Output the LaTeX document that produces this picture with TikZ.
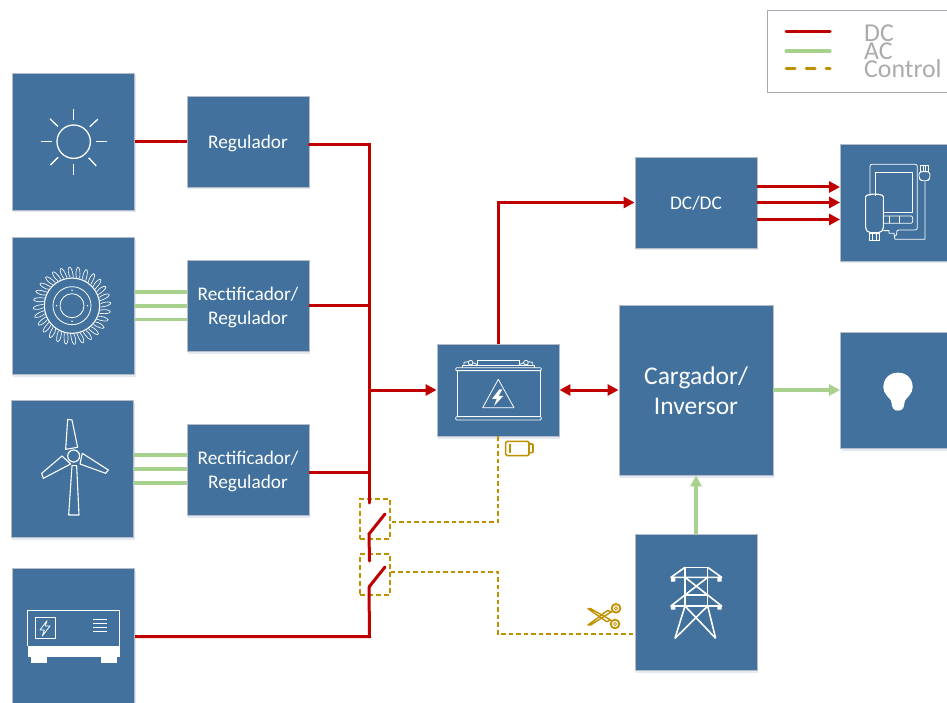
\documentclass[tikz,border=0pt]{standalone}
\usepackage{fontspec}
\setmainfont{Carlito}
\usetikzlibrary{arrows.meta,shadows}
\definecolor{boxblue}{HTML}{41719C}
\definecolor{boxedge}{HTML}{B4BCC8}
\definecolor{dcred}{HTML}{C00000}
\definecolor{acgreen}{HTML}{A9D18E}
\definecolor{ctrlgold}{HTML}{BF9000}
\definecolor{leggray}{HTML}{ABABAB}
\newcommand{\lwr}[2][1.5pt]{\raisebox{-#1}[\height][\depth]{#2}}
\tikzset{
  bx/.style={draw=boxedge,line width=0.9pt,fill=boxblue,inner sep=0pt,text=white,align=center,
    drop shadow={shadow xshift=1pt,shadow yshift=-2.5pt,fill=boxblue!25,opacity=.6}},
  smalltext/.style={font=\fontsize{19.3}{23.5}\selectfont},
  bigtext/.style={font=\fontsize{25.5}{30}\selectfont},
  dc/.style={draw=dcred,line width=3pt},
  dcarrow/.style={dc,-{Triangle[length=11pt,width=11pt]}},
  dcboth/.style={dc,{Triangle[length=11pt,width=11pt]}-{Triangle[length=11pt,width=11pt]}},
  ac/.style={draw=acgreen,line width=3.2pt},
  acarrow/.style={ac,-{Triangle[length=11pt,width=11pt]}},
  ctrl/.style={draw=ctrlgold,line width=1.5pt,dash pattern=on 4.5pt off 3pt},
  swbox/.style={draw=ctrlgold,line width=1.5pt,dash pattern=on 5pt off 3pt,inner sep=0pt,minimum width=30pt},
  ico/.style={draw=white,line width=1.1pt,line join=round},
  icothin/.style={draw=white,line width=0.8pt,line join=round},
  legtext/.style={text=leggray,font=\fontsize{25.8}{25}\selectfont,anchor=west,inner sep=0pt},
}
\begin{document}
\begin{tikzpicture}[x=1pt,y=-1pt]
\clip (0,0) rectangle (947,703);
\fill[white] (0,0) rectangle (947,703);
% boxes
\node[bx,minimum width=122.5pt,minimum height=137pt] (sun) at (73.5,141.5) {};
\node[bx,minimum width=122.5pt,minimum height=137pt] (hydro) at (73.5,305.5) {};
\node[bx,minimum width=122.5pt,minimum height=137pt] (wind) at (72.5,469) {};
\node[bx,minimum width=122.5pt,minimum height=137pt] (gen) at (73.5,637) {};
\node[bx,smalltext,minimum width=122pt,minimum height=91pt] (reg) at (248,141.5) {\lwr{Regulador}};
\node[bx,smalltext,minimum width=122pt,minimum height=91pt] (rect1) at (248,305.5) {\lwr[2pt]{Rectificador/}\\\lwr[2pt]{Regulador}};
\node[bx,smalltext,minimum width=122pt,minimum height=91pt] (rect2) at (248,469.5) {\lwr[2pt]{Rectificador/}\\\lwr[2pt]{Regulador}};
\node[bx,minimum width=122pt,minimum height=92pt] (batt) at (498,390) {};
\node[bx,smalltext,minimum width=122pt,minimum height=91pt] (dcdc) at (696,202.5) {\lwr[1pt]{DC/DC}};
\node[bx,bigtext,minimum width=154pt,minimum height=170pt] (inv) at (696,390) {\lwr[1pt]{Cargador/}\\\lwr[1pt]{Inversor}};
\node[bx,minimum width=122pt,minimum height=136pt] (grid) at (696,602) {};
\node[bx,minimum width=122pt,minimum height=117pt] (usb) at (901.5,202.5) {};
\node[bx,minimum width=122pt,minimum height=116pt] (bulb) at (901.5,390) {};
% switch boxes
\node[swbox,minimum height=40pt] (sw1) at (375,519) {};
\node[swbox,minimum height=41pt] (sw2) at (375,574.5) {};
% junctions
\coordinate (busr) at (369,145);
\coordinate (bus1) at (369,305);
\coordinate (bus2) at (369,472);
\coordinate (busb) at (369,390);
\coordinate (busend) at (369,503);
\coordinate (s1piv) at (369,534);
\coordinate (s1tip) at (385,514);
\coordinate (s1low) at (369.5,561);
\coordinate (s2piv) at (369,587);
\coordinate (s2tip) at (385,567);
\coordinate (gencorner) at (369.5,636.5);
% DC
\draw[dc] (sun.east) -- (reg.west);
\draw[dc,line join=miter,line cap=round] (reg.east |- busr) -- (busr) -- (busend);
\draw[dc] (rect1.east |- bus1) -- (bus1);
\draw[dc] (rect2.east |- bus2) -- (bus2);
\draw[dcarrow] (busb) -- (batt.west);
\draw[dc,line cap=round,line join=miter] (s1tip) -- (s1piv) -- (s1low);
\draw[dc,line cap=round] (s2tip) -- (s2piv);
\draw[dc] (s2piv) -- (gencorner) -- (gen.east |- gencorner);
\coordinate (dctop) at (498,202.5);
\draw[dcarrow] (batt.north) -- (dctop) -- (dcdc.west);
\draw[dcboth] (batt.east) -- (inv.west);
\draw[dcarrow] (dcdc.east |- 0,187) -- (usb.west |- 0,187);
\draw[dcarrow] (dcdc.east |- 0,202.5) -- (usb.west |- 0,202.5);
\draw[dcarrow] (dcdc.east |- 0,219.5) -- (usb.west |- 0,219.5);
% AC
\foreach \yy in {292,306,319.5}{\draw[ac] (hydro.east |- 0,\yy) -- (rect1.west |- 0,\yy);}
\foreach \yy in {455,469,483}{\draw[ac] (wind.east |- 0,\yy) -- (rect2.west |- 0,\yy);}
\draw[acarrow] (inv.east) -- (bulb.west);
\draw[acarrow] (grid.north) -- (inv.south);
% control
\coordinate (c1) at (498,522);
\coordinate (c2) at (498,572);
\coordinate (c3) at (498,634);
\draw[ctrl] (batt.south) -- (c1) -- (sw1.east |- c1);
\draw[ctrl] (sw2.east |- c2) -- (c2) -- (c3) -- (grid.west |- c3);
% sun icon
\begin{scope}[shift={(73.7,141.7)}]
\draw[ico,line width=1.3pt] (0,0) circle (16.7);
\foreach \a in {0,90,180,270}{\draw[ico,line width=1.3pt] (\a:22) -- (\a:33);}
\foreach \a in {47,135,224,317}{\draw[ico,line width=1.3pt] (\a:22) -- (\a:33);}
\end{scope}
% turbine icon
\begin{scope}[shift={(72,305.7)}]
\draw[ico] (0,0) circle (27.7);
\draw[icothin] (0,0) circle (19);
\draw[icothin] (0,0) circle (12);
\foreach \a in {0,90,180,270}{\fill[white] (\a:15.5) circle (0.8);}
\foreach \a in {0,12.86,...,350}{
  \begin{scope}[rotate=\a]
  \draw[draw=white,line width=0.65pt] (28.5,-1.8) .. controls (31,-3.6) and (36.5,-4.4) .. (38.6,-3) .. controls (39.5,-1) and (35,0.6) .. (28.5,1.4);
  \end{scope}
}
\end{scope}
% wind icon
\begin{scope}[shift={(0,390)},x=0.3333pt,y=-0.3333pt]
\draw[ico,line width=1.2pt] (221,198) circle (18);
\draw[ico] (197,178) -- (203,88) -- (216,90) -- (233,172) -- cycle;
\draw[ico] (247,190) -- (325,240) -- (317,250) -- (240,222) -- cycle;
\draw[ico] (186,198) -- (212,222) -- (130,265) -- (125,250) -- cycle;
\draw[ico] (216,227) -- (230,227) -- (237,375) -- (206,375) -- cycle;
\end{scope}
% generator icon
\begin{scope}[shift={(0,390)},x=0.3333pt,y=-0.3333pt]
\draw[icothin] (83,767) -- (83,662) -- (358,662) -- (358,767);
\fill[white] (83,767) rectangle (359,802);
\fill[white] (93,802) rectangle (141,820);
\fill[white] (302,802) rectangle (350,820);
\draw[icothin] (105,682) rectangle (167,745);
\draw[icothin] (141,692) -- (120,720) -- (133,720) -- (127,738) -- (150,708) -- (136,708) -- cycle;
\foreach \yy in {689,701,712,723}{\draw[icothin] (279,\yy) -- (322,\yy);}
\end{scope}
% battery icon
\begin{scope}[shift={(340,330)},x=0.3333pt,y=-0.3333pt]
\draw[icothin] (352,122) rectangle (600,260);
\draw[icothin,rounded corners=1pt] (347,113) rectangle (604,122);
\draw[icothin,rounded corners=1pt] (347,260) rectangle (604,270);
\draw[icothin] (368,113) -- (368,105) -- (582,105) -- (582,113);
\draw[icothin] (412,105) -- (412,92) -- (537,92) -- (537,105);
\draw[icothin] (392,98) circle (7);
\draw[icothin] (558,98) circle (7);
\draw[icothin] (372,105) -- (372,97) -- (385,95) (399,98) -- (412,104);
\draw[icothin] (538,104) -- (551,98) (565,95) -- (578,97) -- (578,105);
\draw[icothin] (475,148) -- (428,233) -- (522,233) -- cycle;
\fill[white] (478,178) -- (456,207) -- (470,207) -- (462,228) -- (490,198) -- (476,198) -- (487,178) -- cycle;
\end{scope}
% small battery
\begin{scope}[shift={(340,330)},x=0.3333pt,y=-0.3333pt]
\draw[draw=ctrlgold,line width=1.6pt,rounded corners=1.5pt] (497,334) rectangle (567,377);
\draw[draw=ctrlgold,line width=1.6pt,rounded corners=1pt] (567,342) -- (579,342) -- (579,368) -- (567,368);
\draw[draw=ctrlgold,line width=1.6pt] (510,342) -- (510,368);
\end{scope}
% device icon
\begin{scope}[shift={(740,0)},x=0.3333pt,y=-0.3333pt]
\draw[icothin,rounded corners=2pt] (390,588) -- (390,493) -- (532,493) -- (532,690) -- (470,690) -- (470,708) -- (462,708);
\draw[icothin] (405,588) -- (405,518) -- (518,518) -- (518,638) -- (430,638);
\draw[ico,rounded corners=5pt] (377,698) -- (377,605) .. controls (377,580) and (430,580) .. (430,605) -- (430,698) -- cycle;
\draw[icothin] (388,700) rectangle (418,721);
\draw[icothin] (397,703) -- (397,721) (408,703) -- (408,721);
\draw[icothin,rounded corners=3pt] (430,648) -- (505,648) .. controls (520,648) and (520,670) .. (505,670) -- (430,670);
\draw[icothin] (447,648) -- (447,670) (478,648) -- (478,670);
\draw[icothin] (430,692) -- (447,692) -- (447,700) -- (462,700) -- (465,718) -- (555,718) -- (555,545);
\draw[icothin,rounded corners=3pt] (537,515) -- (537,536) -- (545,543) -- (562,543) -- (570,536) -- (570,515) -- cycle;
\draw[icothin] (542,497) rectangle (565,515);
\draw[icothin] (549,497) -- (549,515) (557,497) -- (557,515);
\end{scope}
% tower icon
\begin{scope}[shift={(570,520)},x=0.3333pt,y=-0.3333pt]
\begin{scope}[ico,line width=1.6pt]
\draw (345,142) -- (413,142);
\draw (345,142) -- (303,172) -- (455,172) -- (413,142);
\draw (345,142) -- (345,225) (413,142) -- (413,225);
\draw (345,172) -- (413,225) (413,172) -- (345,225);
\draw (345,225) -- (413,225);
\draw (345,225) -- (303,258) -- (455,258) -- (413,225);
\draw (345,225) -- (345,258) (413,225) -- (413,258);
\draw (345,258) -- (315,355) (413,258) -- (437,355);
\draw (345,258) -- (437,355) (413,258) -- (315,355);
\end{scope}
\fill[white] (303,172) rectangle (316,185) (442,172) rectangle (455,185) (303,258) rectangle (316,269) (442,258) rectangle (455,269);
\end{scope}
% scissors
\begin{scope}[shift={(570,520)},x=0.3333pt,y=-0.3333pt]
\draw[draw=ctrlgold,line width=1.8pt] (138,265) circle (13);
\draw[draw=ctrlgold,line width=1.8pt] (135,312) circle (13);
\draw[draw=ctrlgold,line width=0.8pt] (138,265) circle (5);
\draw[draw=ctrlgold,line width=0.8pt] (135,312) circle (5);
\draw[draw=ctrlgold,line width=1.4pt,line join=round] (54,266) -- (62,266) -- (122,300) -- (110,305) -- cycle;
\draw[draw=ctrlgold,line width=1.4pt,line join=round] (54,315) -- (62,315) -- (125,275) -- (112,272) -- cycle;
\end{scope}
% bulb
\begin{scope}[shift={(830,320)},x=0.3333pt,y=-0.3333pt]
\fill[white] (204,158) .. controls (232,158) and (248,178) .. (248,202) .. controls (248,220) and (232,232) .. (226,240) .. controls (222,246) and (224,252) .. (222,258) .. controls (220,262) and (218,262) .. (218,266) .. controls (214,274) and (194,274) .. (190,266) .. controls (190,262) and (186,262) .. (186,258) .. controls (184,252) and (186,246) .. (182,240) .. controls (176,232) and (160,220) .. (160,202) .. controls (160,178) and (176,158) .. (204,158) -- cycle;
\end{scope}
% legend
\node[draw=boxedge!70!gray,line width=0.9pt,fill=white,minimum width=200pt,minimum height=82pt,inner sep=0pt,anchor=north west] (legend) at (766.5,10) {};
\coordinate (la1) at (786,32); \coordinate (la2) at (830,32);
\coordinate (lb1) at (786,51); \coordinate (lb2) at (830,51);
\coordinate (lc1) at (786,69); \coordinate (lc2) at (830,69);
\draw[dc,line cap=round] (la1) -- (la2);
\draw[ac,line cap=round] (lb1) -- (lb2);
\draw[draw=ctrlgold,line width=3pt,line cap=round,dash pattern=on 9pt off 11pt] (lc1) -- (lc2);
\node[legtext] (tdc) at (864,33) {DC};
\node[legtext] (tac) at (864,51) {AC};
\node[legtext] (tct) at (864,69) {Control};
\end{tikzpicture}
\end{document}
